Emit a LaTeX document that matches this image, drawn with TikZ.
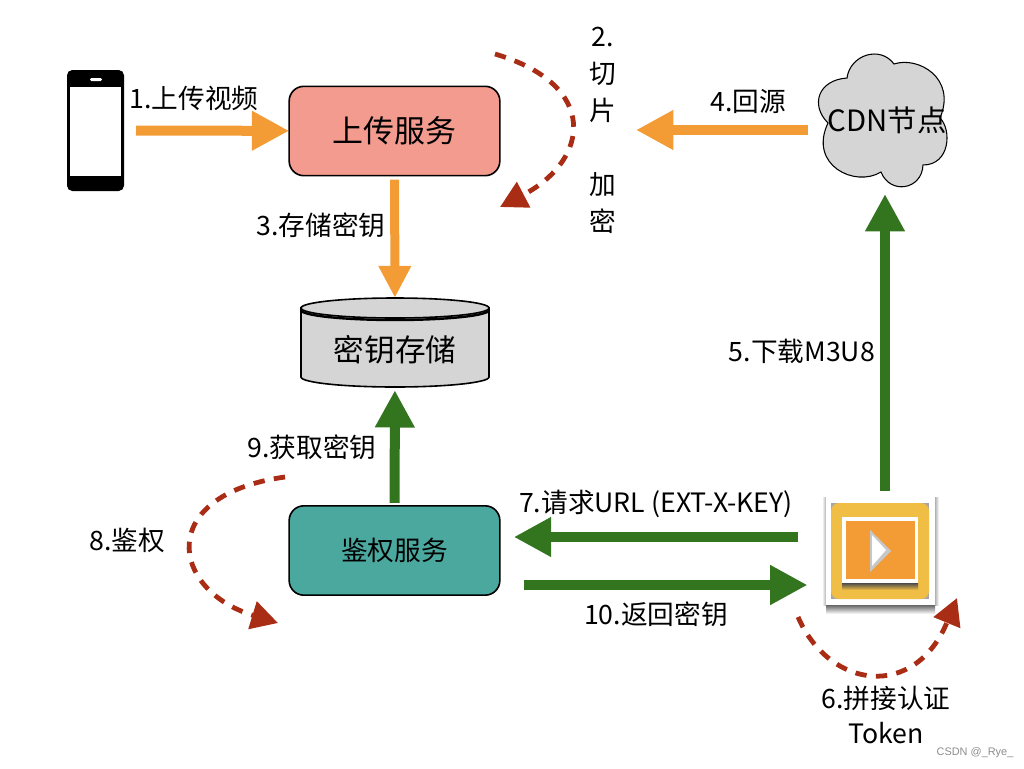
\documentclass[tikz,border=0pt]{standalone}
\usepackage{fontspec}
\setmainfont{Noto Sans CJK SC}
\newfontfamily\marksf{Liberation Sans}
\usetikzlibrary{arrows.meta}
\definecolor{flowOrange}{HTML}{F39C35}
\definecolor{flowGreen}{HTML}{33751E}
\definecolor{loopRed}{HTML}{A92C15}
\definecolor{uploadPink}{HTML}{F49B90}
\definecolor{authTeal}{HTML}{4BA89E}
\definecolor{storeGray}{HTML}{D5D5D5}
\definecolor{playerYellow}{HTML}{F0BE45}
\begin{document}
\begin{tikzpicture}[x=0.75pt, y=-0.75pt, >=stealth]
\tikzset{
  box/.style={
    draw, rectangle, rounded corners=11pt, line width=1.2pt,
    minimum width=158pt, minimum height=67pt,
    outer sep=0pt, font=\fontsize{23.2}{27}\selectfont
  },
  label/.style={font=\fontsize{20}{27.75}\selectfont, align=center, inner sep=0pt},
  flow/.style={line width=7.5pt, -{Triangle[length=28pt,width=28pt]}},
  orange flow/.style={flow, draw=flowOrange, color=flowOrange},
  green flow/.style={flow, draw=flowGreen, color=flowGreen},
  loop/.style={line width=3.6pt, loopRed, dash pattern=on 8.5pt off 7pt,
    -{Triangle[length=20pt,width=21pt,sep=0pt]}}
}
\useasboundingbox (0,0) rectangle (1024,768);

\node[draw=none, fill=black, rounded corners=4pt, minimum width=42.75pt, minimum height=90.75pt, inner sep=0pt, outer sep=0pt] (phone) at (95.5,130.5) {};
\fill[white] (70,87) rectangle (121,176);
\fill[white, rounded corners=1pt] (90,78) rectangle (102,81);

\node[box, fill=uploadPink] (upload) at (394.5,131) {上传服务};
\node[box, fill=authTeal, font=\fontsize{20}{24}\selectfont] (auth) at (394.5,550.5) {鉴权服务};

\draw[line width=1.2pt, fill=storeGray] (301,308) -- (301,377) arc[start angle=180, end angle=0, x radius=94, y radius=10] -- (489,308) -- cycle;
\draw[line width=1.2pt, fill=storeGray] (395,308) ellipse[x radius=94, y radius=10];
\draw[line width=1.8pt] (301,310) arc[start angle=180, end angle=0, x radius=94, y radius=10];
\node[minimum width=141pt, minimum height=67pt, inner sep=0pt, outer sep=0pt] (store) at (395,342.5) {};
\node[inner sep=0pt, font=\fontsize{23}{27}\selectfont] (store text) at (395,350) {密钥存储};

\draw[line width=.8pt, fill=storeGray] (894,64) .. controls (918,56) and (957,78) .. (940,118)
  .. controls (952,130) and (950,165) .. (923,165)
  .. controls (922,190) and (890,195) .. (881,172)
  .. controls (855,188) and (808,165) .. (828,123)
  .. controls (810,105) and (818,80) .. (847,78)
  .. controls (850,55) and (880,45) .. (894,64) -- cycle;
\node[inner sep=0pt, font=\fontsize{22}{26}\selectfont] (cdn) at (887,120) {CDN节点};

\shade[top color=black!60, bottom color=white] (826,605) rectangle (935,614);
\shade[left color=white, right color=black!30] (822,497) rectangle (826,605);
\shade[left color=black!30, right color=white] (935,497) rectangle (939,605);
\node[fill=white, line width=.6pt, minimum width=81.5pt, minimum height=81pt, inner sep=0pt, outer sep=0pt] (player) at (880.5,551) {};
\fill[black!35] (831,503) rectangle (929,599);
\fill[playerYellow, rounded corners=6pt] (831,503) rectangle (929,599);
\shade[top color=black!70, bottom color=playerYellow] (842,583) rectangle (918,590);
\fill[white] (842,517) rectangle (918,583);
\fill[flowOrange] (846,521) rectangle (915,579);
\fill[black!22] (870,530) -- (891,551) -- (870,572) -- cycle;
\fill[white] (872,535) -- (886,550) -- (872,566) -- cycle;

\coordinate (slice end) at (636,130);
\coordinate (cloud feed) at (808,130);
\coordinate (cdn end) at (885,194);
\coordinate (request row) at (0,537);
\coordinate (reply row) at (0,585);

\draw[orange flow, shorten <=9pt] (phone) -- (upload);
\draw[orange flow, line width=6.75pt, -{Triangle[length=24pt,width=23pt]}, shorten <=3pt] (upload) -- (store);
\draw[orange flow] (cloud feed) -- (slice end);
\draw[green flow, shorten >=2.25pt, shorten <=2.25pt] (auth) -- (store);
\draw[green flow, shorten <=4.5pt] (player.north -| cdn end) -- (cdn end);
\draw[green flow, shorten <=21pt, shorten >=10.5pt] (player.west |- request row) -- (auth.east |- request row);
\draw[green flow, shorten <=18pt, shorten >=14pt] (auth.east |- reply row) -- (player.west |- reply row);

\coordinate (slice from) at (495,54);
\coordinate (slice to) at (500,207);
\coordinate (check from) at (285,477);
\coordinate (check to) at (278,623);
\coordinate (token from) at (798,617);
\coordinate (token to) at (957,598);
\draw[loop] (slice from) .. controls (600,85) and (590,160) .. (slice to);
\draw[loop] (check from) .. controls (155,495) and (170,590) .. (check to);
\draw[loop] (token from) .. controls (830,690) and (915,700) .. (token to);

\node[label] (step1) at (194,98) {1.上传视频};
\node[label] (step2) at (603,130) {2.\\切\\片\\[27.75pt]加\\密};
\node[label] (step3) at (321,225) {3.存储密钥};
\node[label] (step4) at (748,102) {4.回源};
\node[label] (step5) at (802,351) {5.下载M3U8};
\node[label] (step6) at (886,698) {6.拼接认证};
\node[label] (token) at (886,733) {Token};
\node[label] (step7) at (656,504) {7.请求URL (EXT-X-KEY)};
\node[label] (step8) at (127,540) {8.鉴权};
\node[label] (step9) at (312,447) {9.获取密钥};
\node[label] (step10) at (656,614) {10.返回密钥};
\node[inner sep=0pt, text=black!45, font=\marksf\fontsize{8.2}{10}\selectfont] (mark) at (975,753) {CSDN @\_Rye\_};
\end{tikzpicture}
\end{document}
